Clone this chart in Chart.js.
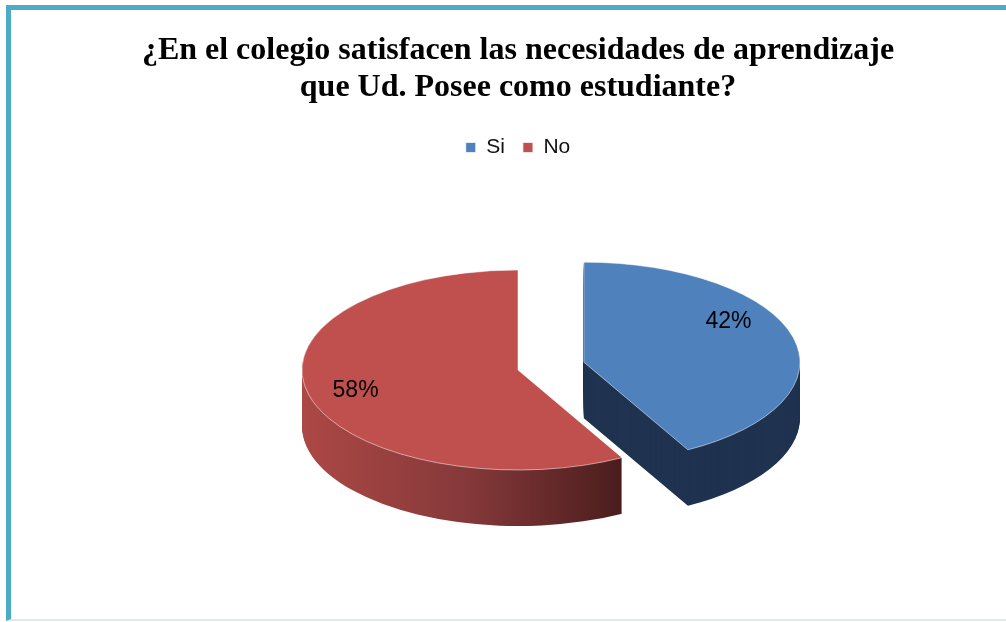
<!DOCTYPE html>
<html>
<head>
<meta charset="utf-8">
<script src="https://cdn.jsdelivr.net/npm/chart.js@4.4.1/dist/chart.umd.min.js"></script>
<style>
  html, body { margin: 0; padding: 0; background: #fff; overflow: hidden; }
  #frame { position: absolute; left: 6px; top: 5px; width: 1100px; height: 609px;
           border-left: 5px solid #4BACC6; border-top: 5px solid #4BACC6; border-bottom: 2px solid #DCEBF0; }
  #wrap { position: absolute; left: 0; top: 0; width: 1006px; height: 622px; }
</style>
</head>
<body>
<div id="frame"></div>
<div id="wrap"><canvas id="pieChart" width="1006" height="622"></canvas></div>
<script>
// data
const titleLines = ['¿En el colegio satisfacen las necesidades de aprendizaje', 'que Ud. Posee como estudiante?'];
const categories = ['Si', 'No'];
const percentages = [42, 58];

// colours: top faces and the darker sides
const topColors = ['#4F81BD', '#C0504D'];
const sideColors = ['#1F3350', null]; // red side gets a gradient below

// 3d look: vertical squash, thickness, how far each slice is pulled out, label placement
const squash = 0.463;
const depth = 56;
const explode = [68, 0];
const labelTurn = [-16.5, -1]; // degrees, best-fit like nudge
const labelFrac = 0.78;

function pieCenter(chart) {
  const a = chart.chartArea;
  return { x: (a.left + a.right) / 2, y: (a.top + a.bottom) / 2 };
}

function squashAround(ctx, c) {
  ctx.translate(c.x, c.y);
  ctx.scale(1, squash);
  ctx.translate(-c.x, -c.y);
}

function arcGeom(arc, i) {
  const p = arc.getProps(['x', 'y', 'startAngle', 'endAngle', 'outerRadius']);
  const mid = (p.startAngle + p.endAngle) / 2;
  return { x: p.x + Math.cos(mid) * explode[i], y: p.y + Math.sin(mid) * explode[i],
           r: p.outerRadius, s: p.startAngle, e: p.endAngle, mid: mid };
}

function arcPath(ctx, arc, i) {
  const g = arcGeom(arc, i);
  ctx.beginPath();
  ctx.moveTo(g.x, g.y);
  ctx.arc(g.x, g.y, g.r, g.s, g.e);
  ctx.closePath();
}

const pie3d = {
  id: 'pie3d',
  beforeDatasetsDraw(chart) {
    const ctx = chart.ctx;
    const c = pieCenter(chart);
    const arcs = chart.getDatasetMeta(0).data;
    arcs.forEach((arc, i) => {
      // pull the slice out along its middle angle
      if (!arc._exploded) {
        const baseDraw = Chart.ArcElement.prototype.draw;
        arc.draw = function (cx) {
          const mid = (this.startAngle + this.endAngle) / 2;
          cx.save();
          cx.translate(Math.cos(mid) * explode[i], Math.sin(mid) * explode[i]);
          baseDraw.call(this, cx);
          cx.restore();
        };
        arc._exploded = true;
      }
      let fill = sideColors[i];
      if (!fill) {
        const r = arc.outerRadius;
        fill = ctx.createLinearGradient(c.x - r, 0, c.x + r * 0.5, 0);
        fill.addColorStop(0, '#AC4845');
        fill.addColorStop(0.5, '#86393A');
        fill.addColorStop(1, '#4A1C1C');
      }
      for (let d = depth; d > 0; d--) {
        ctx.save();
        ctx.translate(0, d);
        squashAround(ctx, c);
        arcPath(ctx, arc, i);
        ctx.fillStyle = fill;
        ctx.fill();
        ctx.restore();
      }
    });
    ctx.save();
    squashAround(ctx, c);
  },
  afterDatasetsDraw(chart) {
    const ctx = chart.ctx;
    ctx.restore();
    const c = pieCenter(chart);
    const arcs = chart.getDatasetMeta(0).data;
    ctx.save();
    ctx.font = '23px "Liberation Sans"';
    ctx.fillStyle = '#000';
    ctx.textAlign = 'center';
    ctx.textBaseline = 'middle';
    arcs.forEach((arc, i) => {
      const g = arcGeom(arc, i);
      const a = g.mid + labelTurn[i] * Math.PI / 180;
      const lx = g.x + Math.cos(a) * g.r * labelFrac;
      const ly = g.y + Math.sin(a) * g.r * labelFrac;
      ctx.fillText(percentages[i] + '%', lx, c.y + (ly - c.y) * squash);
    });
    ctx.restore();
  }
};

const ctx = document.getElementById('pieChart').getContext('2d');
const myPieChart = new Chart(ctx, {
  type: 'pie',
  data: {
    labels: categories,
    datasets: [{
      data: percentages,
      backgroundColor: topColors,
      borderColor: 'rgba(255,255,255,0.7)',
      borderWidth: 1,
      clip: false
    }]
  },
  options: {
    responsive: false,
    animation: false,
    events: [],
    radius: 216,
    layout: { padding: { top: 22, left: 30, right: 0, bottom: 50 } },
    plugins: {
      title: {
        display: true,
        text: titleLines,
        color: '#000',
        font: { family: '"Liberation Serif"', size: 32, weight: 'bold', lineHeight: 1.156 },
        padding: { top: 10, bottom: 13 }
      },
      legend: {
        position: 'top',
        labels: {
          boxWidth: 10,
          boxHeight: 10,
          padding: 18,
          color: '#111',
          font: { family: '"Liberation Sans"', size: 21 }
        }
      },
      tooltip: { enabled: false }
    }
  },
  plugins: [pie3d]
});
</script>
</body>
</html>
